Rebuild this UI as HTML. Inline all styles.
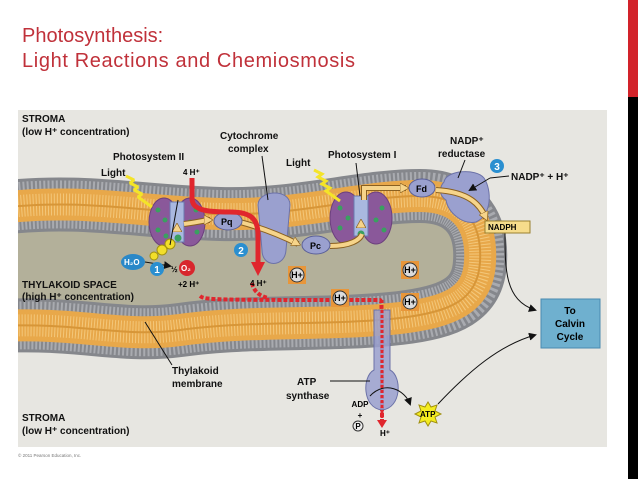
<!DOCTYPE html>
<html><head><meta charset="utf-8"><style>
html,body{margin:0;padding:0;background:#fff;width:638px;height:479px;overflow:hidden}
svg{display:block;font-family:"Liberation Sans",Arial,sans-serif}
</style></head><body>
<svg width="638" height="479" viewBox="0 0 638 479" xmlns="http://www.w3.org/2000/svg">
<defs>
<clipPath id="pc"><rect x="18" y="110" width="589" height="337"/></clipPath>
<marker id="ah" markerUnits="userSpaceOnUse" markerWidth="8" markerHeight="8" refX="6" refY="4" orient="auto"><path d="M0,0 L8,4 L0,8 z" fill="#111"/></marker>
<marker id="ahy" markerUnits="userSpaceOnUse" markerWidth="9" markerHeight="10" refX="6" refY="5" orient="auto"><path d="M0,0 L9,5 L0,10 z" fill="#f6d48a" stroke="#8a6020" stroke-width="0.7"/></marker>
</defs>
<rect x="628" y="0" width="10" height="97" fill="#d2232a"/>
<rect x="628" y="97" width="10" height="382" fill="#000"/>
<text x="22" y="42" font-size="20" fill="#c0313a">Photosynthesis:</text>
<text x="22" y="67" font-size="20" fill="#c0313a" textLength="333">Light Reactions and Chemiosmosis</text>
<rect x="18" y="110" width="589" height="337" fill="#e7e6e1"/>
<g clip-path="url(#pc)">
<path d="M0,208 C80,198 140,212 220,214 C300,216 360,196 420,196 C470,196 482,230 480,262 C478,300 450,312 400,318 C330,326 250,320 180,330 C120,338 80,322 0,326 Z" fill="#b3b09a"/>
<path d="M0,208 C80,198 140,212 220,214 C300,216 360,196 420,196 C470,196 482,230 480,262 C478,300 450,312 400,318 C330,326 250,320 180,330 C120,338 80,322 0,326" fill="none" stroke="#85878c" stroke-width="54"/>
<path d="M0,208 C80,198 140,212 220,214 C300,216 360,196 420,196 C470,196 482,230 480,262 C478,300 450,312 400,318 C330,326 250,320 180,330 C120,338 80,322 0,326" fill="none" stroke="#a9abb0" stroke-width="48" stroke-dasharray="2 2"/>
<path d="M0,208 C80,198 140,212 220,214 C300,216 360,196 420,196 C470,196 482,230 480,262 C478,300 450,312 400,318 C330,326 250,320 180,330 C120,338 80,322 0,326" fill="none" stroke="#e8a84a" stroke-width="32"/>
<path d="M0,208 C80,198 140,212 220,214 C300,216 360,196 420,196 C470,196 482,230 480,262 C478,300 450,312 400,318 C330,326 250,320 180,330 C120,338 80,322 0,326" fill="none" stroke="#f3c77a" stroke-width="22" stroke-dasharray="1 2"/>
<path d="M0,208 C80,198 140,212 220,214 C300,216 360,196 420,196 C470,196 482,230 480,262 C478,300 450,312 400,318 C330,326 250,320 180,330 C120,338 80,322 0,326" fill="none" stroke="#d79638" stroke-width="2"/>
</g>
<!-- PSII -->
<g>
<ellipse cx="164" cy="222" rx="15" ry="24" fill="#8a589a" stroke="#6b3f7c"/>
<ellipse cx="190" cy="222" rx="15" ry="24" fill="#8a589a" stroke="#6b3f7c"/>
<rect x="170" y="202" width="14" height="40" fill="#a9b8e0" stroke="#6b7ab0"/>
<g fill="#3aa060"><circle cx="158" cy="210" r="2.5"/><circle cx="165" cy="220" r="2.5"/><circle cx="158" cy="230" r="2.5"/><circle cx="166" cy="236" r="2.5"/><circle cx="196" cy="210" r="2.5"/><circle cx="190" cy="222" r="2.5"/><circle cx="197" cy="232" r="2.5"/><circle cx="178" cy="238" r="3.5"/></g>
<path d="M177,232 v-6" stroke="#f6d48a" stroke-width="4" marker-end="url(#ahy)"/>
</g>
<!-- PSI -->
<g>
<ellipse cx="346" cy="218" rx="16" ry="26" fill="#8a589a" stroke="#6b3f7c"/>
<ellipse cx="376" cy="218" rx="16" ry="26" fill="#8a589a" stroke="#6b3f7c"/>
<rect x="354" y="196" width="14" height="40" fill="#a9b8e0" stroke="#6b7ab0"/>
<g fill="#3aa060"><circle cx="340" cy="208" r="2.5"/><circle cx="348" cy="218" r="2.5"/><circle cx="340" cy="228" r="2.5"/><circle cx="382" cy="208" r="2.5"/><circle cx="376" cy="220" r="2.5"/><circle cx="384" cy="230" r="2.5"/><circle cx="361" cy="234" r="3.5"/></g>
<path d="M361,228 v-6" stroke="#f6d48a" stroke-width="4" marker-end="url(#ahy)"/>
</g>
<!-- Cytochrome -->
<path d="M258,205 C258,190 290,188 290,205 L286,250 C285,268 262,268 262,250 Z" fill="#9aa0cf" stroke="#6c72a8"/>
<!-- NADP reductase -->
<path d="M444,182 C446,170 476,168 484,178 C492,190 492,215 476,222 C462,225 448,212 446,200 C438,195 440,186 444,182 Z" fill="#9aa0cf" stroke="#6c72a8"/>
<!-- electron flow -->
<g fill="none" stroke="#8a6020" stroke-width="6">
<path d="M184,224 C200,222 205,220 210,220"/>
<path d="M240,222 C270,230 290,240 298,244"/>
<path d="M330,246 C350,246 360,240 362,234"/>
<path d="M364,200 v-12 h42"/>
<path d="M436,190 C470,192 480,205 486,218"/>
</g>
<g fill="none" stroke="#f6d48a" stroke-width="4">
<path d="M184,224 C200,222 205,220 210,220" marker-end="url(#ahy)"/>
<path d="M240,222 C270,230 290,240 298,244" marker-end="url(#ahy)"/>
<path d="M330,246 C350,246 360,240 362,234"/>
<path d="M364,200 v-12 h42" marker-end="url(#ahy)"/>
<path d="M436,190 C470,192 480,205 486,218" marker-end="url(#ahy)"/>
</g>
<ellipse cx="228" cy="221" rx="14" ry="9" fill="#9aa0cf" stroke="#5b6098"/><text x="221" y="225" font-size="9" font-weight="bold">Pq</text>
<ellipse cx="316" cy="245" rx="14" ry="9" fill="#9aa0cf" stroke="#5b6098"/><text x="310" y="249" font-size="9" font-weight="bold">Pc</text>
<ellipse cx="422" cy="188" rx="13" ry="9" fill="#9aa0cf" stroke="#5b6098"/><text x="416" y="192" font-size="9" font-weight="bold">Fd</text>
<!-- red proton path -->
<path d="M192,178 V198 C192,210 205,212 230,212 C250,212 258,218 258,235 V262" stroke="#e0262d" stroke-width="5" fill="none"/>
<path d="M251,262 L265,262 L258,276 Z" fill="#e0262d"/>
<path d="M200,296 C205,300 210,300 380,300 C382,300 382,305 382,420" stroke="#e0262d" stroke-width="4" stroke-dasharray="4 2" fill="none"/>
<path d="M252,283 C254,292 260,296 268,298" stroke="#e0262d" stroke-width="4" stroke-dasharray="4 2" fill="none"/>
<!-- ATP synthase -->
<path d="M374,310 h16 v60 C402,376 402,408 382,410 C362,408 362,376 374,370 Z" fill="#9aa0cf" fill-opacity="0.85" stroke="#6c72a8"/>
<path d="M382,300 V422" stroke="#e0262d" stroke-width="3" stroke-dasharray="3 2"/>
<path d="M377,420 L387,420 L382,428 Z" fill="#e0262d"/>
<!-- H+ ions -->
<g font-size="9" font-weight="bold" text-anchor="middle">
<rect x="288" y="266" width="18" height="18" fill="#e8963a"/><circle cx="297" cy="275" r="7" fill="#dcdcdc" stroke="#333"/><text x="297" y="278">H+</text>
<rect x="401" y="261" width="18" height="18" fill="#e8963a"/><circle cx="410" cy="270" r="7" fill="#dcdcdc" stroke="#333"/><text x="410" y="273">H+</text>
<rect x="331" y="289" width="18" height="18" fill="#e8963a"/><circle cx="340" cy="298" r="7" fill="#dcdcdc" stroke="#333"/><text x="340" y="301">H+</text>
<rect x="401" y="293" width="18" height="18" fill="#e8963a"/><circle cx="410" cy="302" r="7" fill="#dcdcdc" stroke="#333"/><text x="410" y="305">H+</text>
</g>
<!-- water/ o2 -->
<circle cx="162" cy="250" r="5" fill="#f2de2a" stroke="#a09010"/><circle cx="170" cy="244" r="5" fill="#f2de2a" stroke="#a09010"/><circle cx="154" cy="256" r="4" fill="#f2de2a" stroke="#a09010"/>
<ellipse cx="133" cy="262" rx="12" ry="8" fill="#2a88c8"/><text x="124" y="265" font-size="8" fill="#fff" font-weight="bold">H₂O</text>
<path d="M145,262 L170,266" stroke="#111" marker-end="url(#ah)"/>
<circle cx="187" cy="268" r="8" fill="#d8262d"/><text x="181" y="271" font-size="8" fill="#fff" font-weight="bold">O₂</text>
<text x="171" y="272" font-size="8" font-weight="bold">½</text>
<text x="178" y="287" font-size="8" font-weight="bold">+2 H⁺</text>
<text x="250" y="286" font-size="8" font-weight="bold">4 H⁺</text>
<text x="183" y="175" font-size="8" font-weight="bold">4 H⁺</text>
<!-- numbers -->
<g font-size="10" font-weight="bold" fill="#fff" text-anchor="middle">
<circle cx="157" cy="269" r="7" fill="#2a8fd0"/><text x="157" y="273">1</text>
<circle cx="241" cy="250" r="7" fill="#2a8fd0"/><text x="241" y="254">2</text>
<circle cx="497" cy="166" r="7" fill="#2a8fd0"/><text x="497" y="170">3</text>
</g>
<!-- light bolts -->
<path d="M126,176 l8,4 -4,3 8,4 -4,3 8,4 -4,3 14,10" stroke="#f4e428" stroke-width="3" fill="none" stroke-linejoin="bevel"/>
<path d="M314,170 l8,4 -4,3 8,4 -4,3 8,4 -4,3 14,10" stroke="#f4e428" stroke-width="3" fill="none"/>
<!-- labels -->
<g font-size="10" font-weight="bold" fill="#111">
<text x="22" y="122">STROMA</text>
<text x="22" y="135">(low H⁺ concentration)</text>
<text x="113" y="160">Photosystem II</text>
<text x="101" y="176">Light</text>
<text x="220" y="139">Cytochrome</text>
<text x="228" y="152">complex</text>
<text x="286" y="166">Light</text>
<text x="328" y="158">Photosystem I</text>
<text x="450" y="144">NADP⁺</text>
<text x="438" y="157">reductase</text>
<text x="511" y="180">NADP⁺ + H⁺</text>
<text x="22" y="288">THYLAKOID SPACE</text>
<text x="22" y="300">(high H⁺ concentration)</text>
<text x="172" y="374">Thylakoid</text>
<text x="172" y="387">membrane</text>
<text x="297" y="385">ATP</text>
<text x="286" y="399">synthase</text>
<text x="22" y="421">STROMA</text>
<text x="22" y="434">(low H⁺ concentration)</text>
</g>
<g stroke="#111" fill="none">
<path d="M170,245 L178,200"/><path d="M356,163 L360,196"/><path d="M262,156 L268,200"/>
<path d="M490,178 L470,190" marker-end="url(#ah)"/><path d="M509,176 L490,178"/>
<path d="M465,160 L458,178"/>
<path d="M145,322 L172,365"/><path d="M330,381 L370,381"/>
<path d="M505,232 C505,270 505,300 535,310" marker-end="url(#ah)"/>
<path d="M438,404 C470,370 500,345 535,335" marker-end="url(#ah)"/>
<path d="M370,396 C385,380 405,390 410,404" marker-end="url(#ah)"/>
</g>
<rect x="485" y="221" width="45" height="12" fill="#f6dc8b" stroke="#9a8030"/>
<text x="488" y="230" font-size="8" font-weight="bold">NADPH</text>
<rect x="541" y="299" width="59" height="49" fill="#6fb0cf" stroke="#4a8ab0"/>
<g font-size="10" font-weight="bold" text-anchor="middle"><text x="570" y="314">To</text><text x="570" y="327">Calvin</text><text x="570" y="340">Cycle</text></g>
<path d="M428,402 l3,5 6,-2 -2,6 6,3 -6,3 2,6 -6,-2 -3,5 -3,-5 -6,2 2,-6 -6,-3 6,-3 -2,-6 6,2 z" fill="#f4ec20" stroke="#a09010"/>
<text x="420" y="417" font-size="8" font-weight="bold">ATP</text>
<g font-size="8" font-weight="bold" text-anchor="middle"><text x="360" y="407">ADP</text><text x="360" y="418">+</text><circle cx="358" cy="426" r="5" fill="#eee" stroke="#333"/><text x="358" y="429">P</text><text x="385" y="436">H⁺</text></g>
<text x="18" y="457" font-size="4.5" fill="#777">© 2011 Pearson Education, Inc.</text>
</svg>
</body></html>
